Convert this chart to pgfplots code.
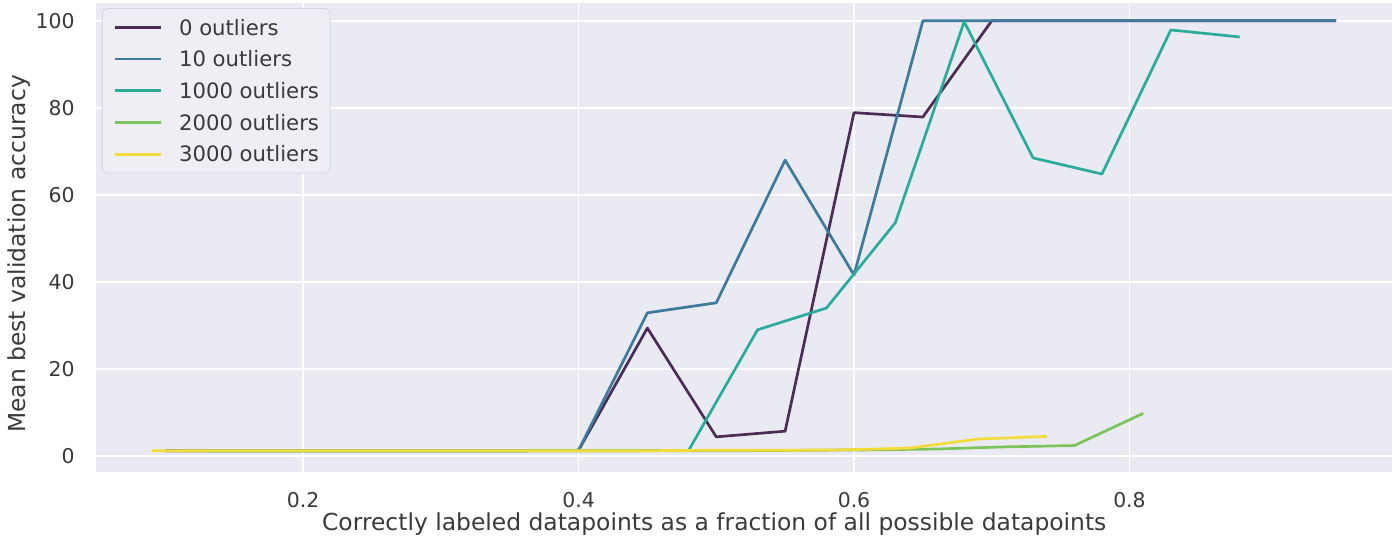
\documentclass[border=0pt]{standalone}
\usepackage{fontspec}
\setmainfont{DejaVu Sans}
\usepackage{pgfplots}
\pgfplotsset{compat=1.18}
\definecolor{bgc}{HTML}{EAEAF2}
\definecolor{txt}{HTML}{3A3A3A}
\definecolor{legfill}{HTML}{EEEEF4}
\definecolor{legdraw}{HTML}{D4D4DC}
\definecolor{c0}{HTML}{4B2D56}
\definecolor{c1}{HTML}{3D7A9B}
\definecolor{c2}{HTML}{2AAB9B}
\definecolor{c3}{HTML}{7CC35A}
\definecolor{c4}{HTML}{F3DB3A}
\begin{document}
\begin{tikzpicture}
\useasboundingbox (-48pt,-35pt) rectangle (650pt,236pt);
\begin{axis}[
  at={(0,0)}, anchor=south west, scale only axis,
  width=648pt, height=234.5pt,
  xmin=0.0497, xmax=0.9906, ymin=-3.68, ymax=104.1,
  axis background/.style={fill=bgc},
  axis line style={draw=none},
  xtick={0.2,0.4,0.6,0.8}, ytick={0,20,40,60,80,100},
  major tick length=0pt,
  grid=major, major grid style={white, line width=0.8pt},
  /pgf/number format/assume math mode=true,
  xticklabel style={font=\fontsize{10.2}{12}\selectfont, text=txt, anchor=center, yshift=-14pt, inner sep=0pt},
  yticklabel style={font=\fontsize{10.2}{12}\selectfont, text=txt, anchor=east, xshift=-10.5pt, inner sep=0pt},
  xlabel={Correctly labeled datapoints as a fraction of all possible datapoints},
  ylabel={Mean best validation accuracy},
  xlabel style={at={(axis description cs:0.477,-0.111)}, anchor=center, font=\fontsize{11.7}{14}\selectfont, text=txt},
  ylabel style={at={(axis description cs:-0.0594,0.465)}, anchor=center, rotate=0, font=\fontsize{11.7}{14}\selectfont, text=txt},
  legend style={at={(axis description cs:0.0046,0.989)}, anchor=north west,
    draw=legdraw, fill=legfill, rounded corners=2.5pt,
    font=\fontsize{10.6}{12}\selectfont, text=txt,
    inner xsep=5.5pt, inner ysep=5.5pt,
    nodes={inner sep=0pt, text height=7.8pt, text depth=0pt},
    column sep=8.5pt, row sep=8.05pt},
  legend cell align=left,
  legend image code/.code={\draw[#1] (0pt,0pt) -- (23pt,0pt);},
  every axis plot/.append style={line width=1.35pt, line join=round},
]
\addplot[c0] coordinates {(0.10,1.2)(0.15,1.2)(0.20,1.2)(0.25,1.2)(0.30,1.2)(0.35,1.2)(0.40,1.3)(0.45,29.4)(0.50,4.4)(0.55,5.7)(0.60,78.9)(0.65,77.9)(0.70,100)(0.75,100)(0.80,100)(0.85,100)(0.90,100)(0.95,100)};
\addlegendentry{0 outliers}
\addplot[c1] coordinates {(0.10,1.2)(0.15,1.2)(0.20,1.2)(0.25,1.2)(0.30,1.2)(0.35,1.2)(0.40,1.3)(0.45,32.9)(0.50,35.2)(0.55,68.0)(0.60,41.6)(0.65,100)(0.70,100)(0.75,100)(0.80,100)(0.85,100)(0.90,100)(0.95,100)};
\addlegendentry{10 outliers}
\addplot[c2] coordinates {(0.13,1.2)(0.18,1.2)(0.23,1.2)(0.28,1.2)(0.33,1.2)(0.38,1.2)(0.43,1.2)(0.48,1.3)(0.53,29.0)(0.58,34.0)(0.63,53.6)(0.68,99.8)(0.73,68.5)(0.78,64.8)(0.83,97.9)(0.88,96.3)};
\addlegendentry{1000 outliers}
\addplot[c3] coordinates {(0.11,1.2)(0.16,1.2)(0.21,1.2)(0.26,1.2)(0.31,1.2)(0.36,1.2)(0.41,1.2)(0.46,1.2)(0.51,1.2)(0.56,1.3)(0.61,1.4)(0.66,1.6)(0.71,2.1)(0.76,2.4)(0.81,9.8)};
\addlegendentry{2000 outliers}
\addplot[c4] coordinates {(0.09,1.2)(0.14,1.2)(0.19,1.2)(0.24,1.2)(0.29,1.2)(0.34,1.2)(0.39,1.2)(0.44,1.2)(0.49,1.3)(0.54,1.3)(0.59,1.4)(0.64,1.8)(0.69,3.9)(0.74,4.5)};
\addlegendentry{3000 outliers}
\end{axis}
\end{tikzpicture}
\end{document}
